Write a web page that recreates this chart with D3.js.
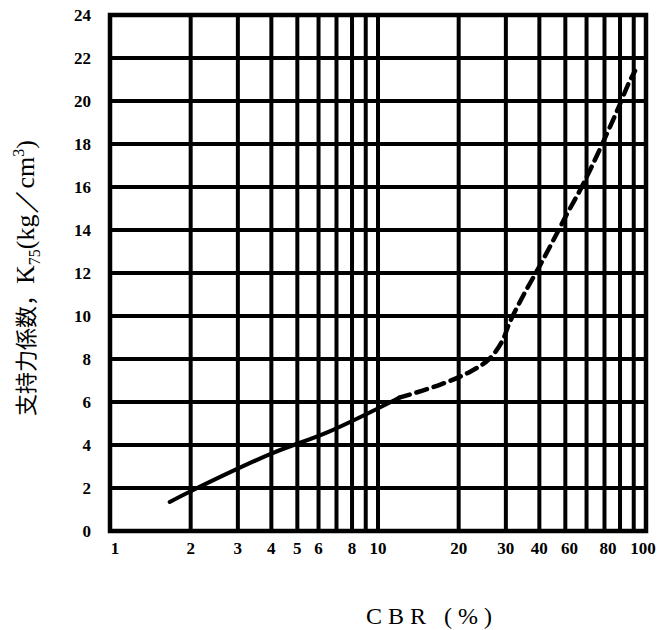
<!DOCTYPE html>
<html>
<head>
<meta charset="utf-8">
<script src="https://cdn.jsdelivr.net/npm/d3@7"></script>
<style>
  body { margin: 0; background: #fff; }
</style>
</head>
<body>
<div id="app"></div>
<script>
// grid values (log x, linear y)
const xGrid = [1, 2, 3, 4, 5, 6, 7, 8, 9, 10, 20, 30, 40, 50, 60, 70, 80, 90, 100];
const xTickLabels = [1, 2, 3, 4, 5, 6, 8, 10, 20, 30, 40, 60, 80, 100];
const yTicks = [0, 2, 4, 6, 8, 10, 12, 14, 16, 18, 20, 22, 24];

// curve: solid part then dashed part
const solidCBR = [1.67, 2, 4, 6.5, 12];
const solidK   = [1.35, 1.85, 3.6, 4.6, 6.2];
const dashCBR = [12, 17, 22, 26, 29, 31, 35, 40, 45, 51, 57, 63, 71, 79, 86, 91];
const dashK   = [6.2, 6.8, 7.4, 8.0, 8.8, 9.7, 11.0, 12.3, 13.5, 14.8, 15.9, 17.0, 18.4, 19.7, 20.8, 21.4];

const w = 659;
const h = 630;

var svg = d3.select("#app")
  .append("svg")
  .attr("width", w)
  .attr("height", h);

var x = d3.scaleLog().domain([1, 100]).range([110, 646]);
var y = d3.scaleLinear().domain([0, 24]).range([531, 15]);

// vertical grid
svg.selectAll("line.vg")
  .data(xGrid)
  .enter()
  .append("line")
  .attr("class", "vg")
  .attr("x1", d => x(d))
  .attr("x2", d => x(d))
  .attr("y1", y(24))
  .attr("y2", y(0))
  .attr("stroke", "#000")
  .attr("stroke-width", 4);

// horizontal grid
svg.selectAll("line.hg")
  .data(yTicks)
  .enter()
  .append("line")
  .attr("class", "hg")
  .attr("x1", x(1))
  .attr("x2", x(100))
  .attr("y1", d => y(d))
  .attr("y2", d => y(d))
  .attr("stroke", "#000")
  .attr("stroke-width", 4);

// frame
svg.append("rect")
  .attr("x", x(1))
  .attr("y", y(24))
  .attr("width", x(100) - x(1))
  .attr("height", y(0) - y(24))
  .attr("fill", "none")
  .attr("stroke", "#000")
  .attr("stroke-width", 4.5);

var line = d3.line()
  .x(d => x(d[0]))
  .y(d => y(d[1]))
  .curve(d3.curveCatmullRom.alpha(0.5));

svg.append("path")
  .datum(solidCBR.map((c, i) => [c, solidK[i]]))
  .attr("d", line)
  .attr("fill", "none")
  .attr("stroke", "#000")
  .attr("stroke-width", 4)
  .attr("stroke-linecap", "round");

svg.append("path")
  .datum(dashCBR.map((c, i) => [c, dashK[i]]))
  .attr("d", line)
  .attr("fill", "none")
  .attr("stroke", "#000")
  .attr("stroke-width", 4.5)
  .attr("stroke-dasharray", "11,7")
  .attr("stroke-linecap", "round");

// tick labels (60 and 80 sit a little left of their lines in the original)
svg.selectAll("text.xt")
  .data(xTickLabels)
  .enter()
  .append("text")
  .attr("class", "xt")
  .attr("x", d => x(d))
  .attr("dx", d => d === 1 ? 5 : d === 60 ? -17 : d === 80 ? -12 : d === 100 ? -3 : 0)
  .attr("y", 554)
  .attr("text-anchor", "middle")
  .attr("font-family", "Liberation Serif, serif")
  .attr("font-weight", "bold")
  .attr("font-size", "17px")
  .attr("fill", "#000")
  .text(d => d);

svg.selectAll("text.yt")
  .data(yTicks)
  .enter()
  .append("text")
  .attr("class", "yt")
  .attr("x", 91)
  .attr("y", d => y(d) + 6)
  .attr("text-anchor", "end")
  .attr("font-family", "Liberation Serif, serif")
  .attr("font-weight", "bold")
  .attr("font-size", "17px")
  .attr("fill", "#000")
  .text(d => d);

// axis titles
svg.append("text")
  .attr("x", 432)
  .attr("y", 624)
  .attr("text-anchor", "middle")
  .attr("font-family", "Liberation Serif, serif")
  .attr("font-size", "24px")
  .attr("letter-spacing", "6px")
  .attr("fill", "#000")
  .text("CBR (%)");

var yt = svg.append("text")
  .attr("transform", "translate(34,278) rotate(-90)")
  .attr("text-anchor", "middle")
  .attr("font-size", "26px")
  .attr("fill", "#000");
yt.append("tspan")
  .attr("font-family", "Noto Sans CJK JP")
  .attr("font-size", "22px")
  .text("支持力係数，");
yt.append("tspan")
  .attr("font-family", "Liberation Serif, serif")
  .text("K");
yt.append("tspan")
  .attr("font-family", "Liberation Serif, serif")
  .attr("font-size", "16px")
  .attr("dy", 6)
  .text("75");
yt.append("tspan")
  .attr("font-family", "Liberation Serif, serif")
  .attr("dy", -6)
  .text("(kg／cm");
yt.append("tspan")
  .attr("font-family", "Liberation Serif, serif")
  .attr("font-size", "16px")
  .attr("dy", -10)
  .text("3");
yt.append("tspan")
  .attr("font-family", "Liberation Serif, serif")
  .attr("dy", 10)
  .text(")");
</script>
</body>
</html>
